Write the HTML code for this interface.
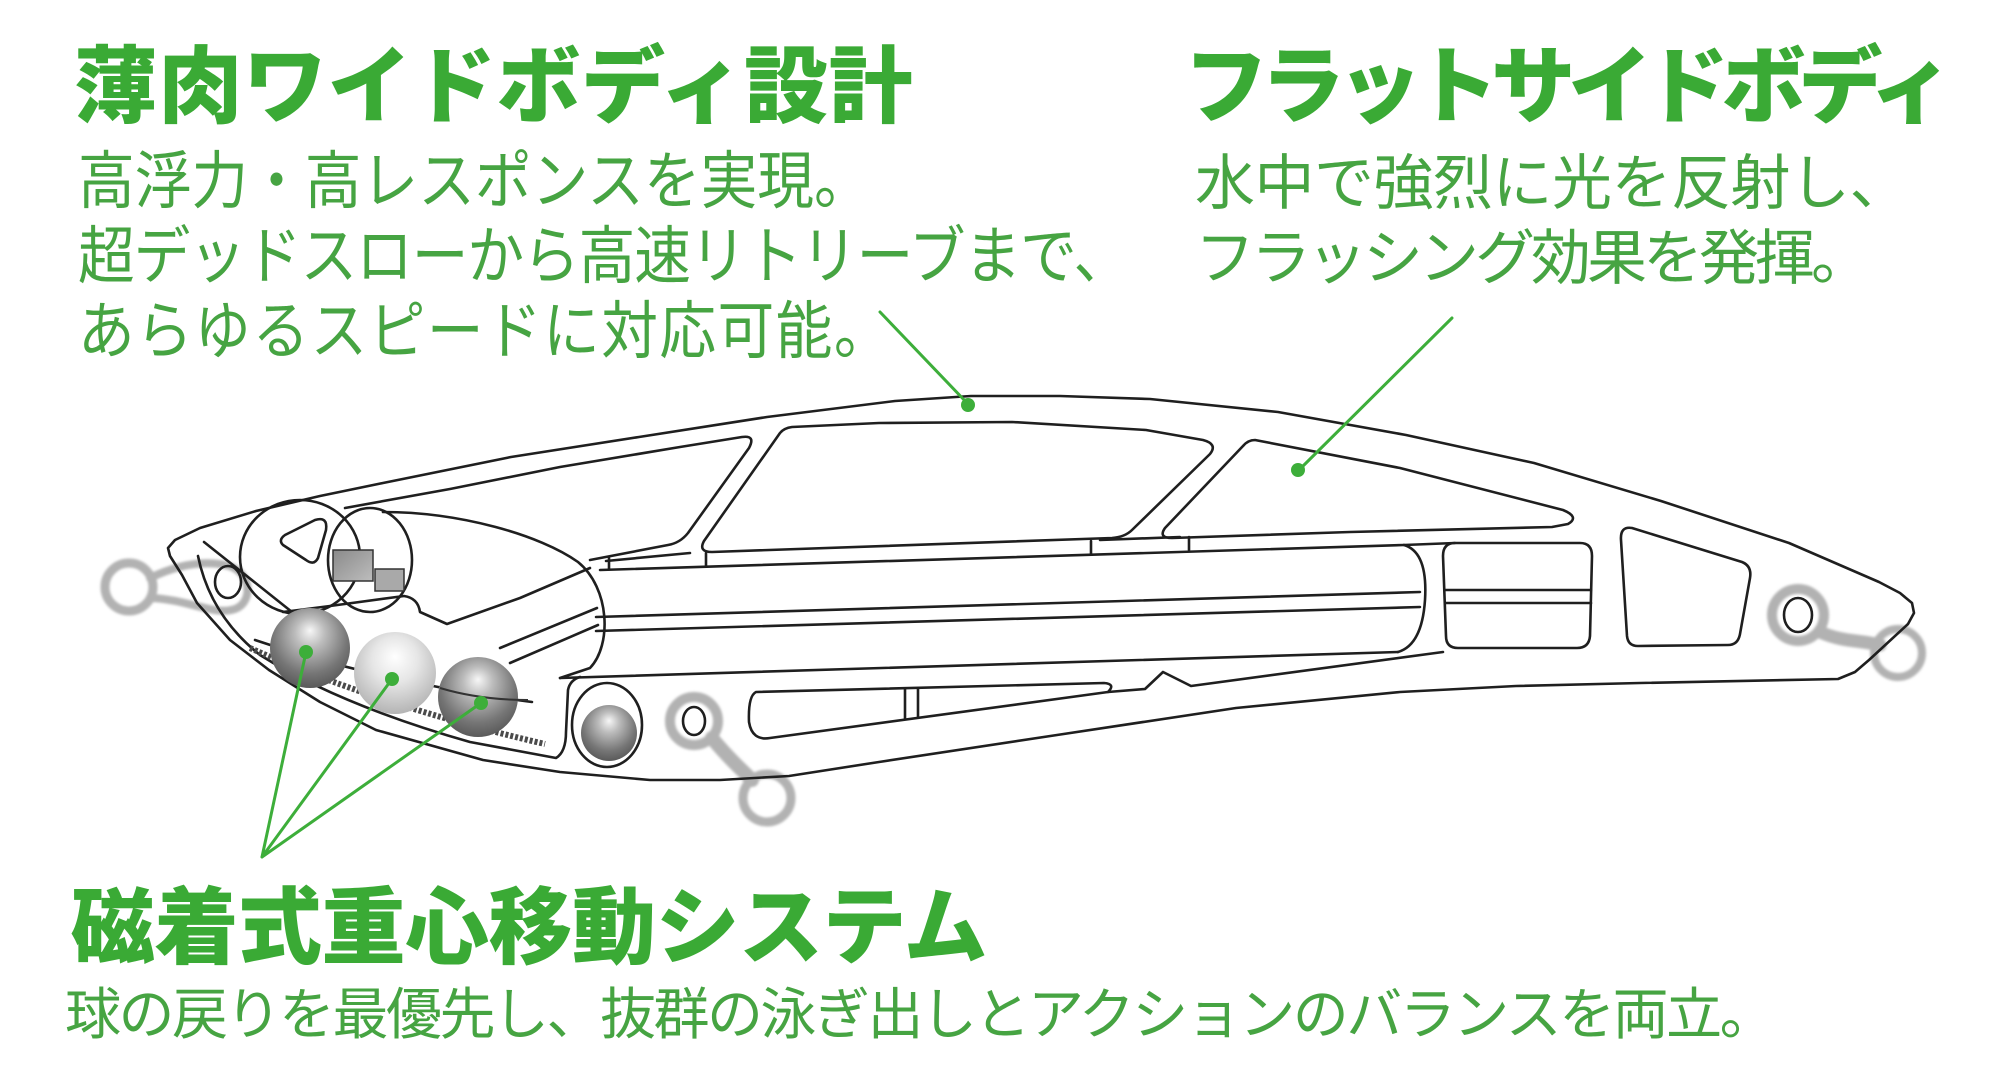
<!DOCTYPE html>
<html lang="ja">
<head>
<meta charset="utf-8">
<style>
html,body{margin:0;padding:0;background:#fff;}
body{width:2000px;height:1081px;position:relative;overflow:hidden;}
.t{position:absolute;white-space:nowrap;line-height:1;font-family:"Liberation Sans","Noto Sans CJK JP",sans-serif;}
.h{font-size:84px;font-weight:900;color:#3aaa35;letter-spacing:0.5px;}
.b{font-weight:400;color:#46a442;}
.l{font-size:63px;transform:scaleX(0.9);transform-origin:0 0;}
.r{font-size:60px;}
.m{font-size:56px;letter-spacing:-2.5px;}
svg{position:absolute;left:0;top:0;}
</style>
</head>
<body>
<svg width="2000" height="1081" viewBox="0 0 2000 1081">
<defs>
<radialGradient id="bd" cx="0.5" cy="0.38" r="0.62" fx="0.5" fy="0.28">
<stop offset="0" stop-color="#f7f7f7"/>
<stop offset="0.3" stop-color="#bcbcbc"/>
<stop offset="0.75" stop-color="#767676"/>
<stop offset="1" stop-color="#5a5a5a"/>
</radialGradient>
<radialGradient id="bl" cx="0.5" cy="0.38" r="0.62" fx="0.5" fy="0.3">
<stop offset="0" stop-color="#ffffff"/>
<stop offset="0.45" stop-color="#e6e6e6"/>
<stop offset="1" stop-color="#b4b4b4"/>
</radialGradient>
<linearGradient id="gb" x1="0" y1="0" x2="1" y2="1">
<stop offset="0" stop-color="#8a8a8a"/>
<stop offset="1" stop-color="#bdbdbd"/>
</linearGradient>
<filter id="bl1" x="-20%" y="-20%" width="140%" height="140%"><feGaussianBlur stdDeviation="1.4"/></filter>
</defs>

<!-- grey hangers (behind) -->
<g fill="none" stroke="#b2b2b2" filter="url(#bl1)" stroke-linecap="round">
<circle cx="129" cy="587" r="24" stroke-width="9"/>
<path d="M150,578 C175,566 200,560 225,565 C252,570 254,602 235,609 C214,616 190,600 152,598" stroke-width="8"/>
<circle cx="694" cy="721" r="24" stroke-width="10"/>
<path d="M712,738 C728,758 742,770 752,780" stroke-width="14"/>
<circle cx="767" cy="798" r="24" stroke-width="9"/>
<circle cx="1798" cy="615" r="26" stroke-width="10"/>
<path d="M1820,632 C1842,642 1860,640 1880,645" stroke-width="13"/>
<circle cx="1898" cy="653" r="24" stroke-width="8"/>
</g>

<g fill="none" stroke="#1f1f1f" stroke-width="2.6" stroke-linejoin="round" stroke-linecap="round">
<!-- outer outline -->
<polygon points="168,548 175,540 200,528 256,511 320,496 383,483 511,457 639,437 767,417 895,401 971,396 1060,396 1150,399 1278,412 1406,435 1534,463 1661,501 1789,543 1879,582 1900,593 1912,603 1914,613 1908,624 1869,660 1855,672 1838,679 1640,683 1516,686 1400,692 1236,708 1057,735 879,762 789,776 720,780 650,780 560,772 483,760 376,730 320,702 269,670 230,640 197,603 182,575 170,556"/>
<!-- panel 1 -->
<path d="M345,508 L450,489 L560,467 L680,447 L742,437 Q756,435 749,448 L688,533 Q680,543 668,545 L590,560"/>
<!-- big window -->
<path d="M792,427 L879,423 L1012,422 L1146,430 L1203,440 Q1218,444 1210,454 L1132,530 Q1125,537 1112,538 L712,552 Q698,552 704,541 L780,433 Q784,428 792,427 Z"/>
<!-- flat side window -->
<path d="M1255,440 L1400,468 L1563,510 Q1580,517 1568,524 L1552,527 L1350,532 L1172,538 Q1158,538 1165,528 L1243,446 Q1248,440 1255,440 Z"/>
<!-- struts / feet -->
<path d="M606,561 L690,553"/>
<path d="M1100,540 L1180,537"/>
<!-- tube -->
<path d="M600,570 L1404,545 L1455,543"/>
<path d="M609,558 L609,569 M706,553 L706,566 M1091,541 L1091,554 M1189,537 L1189,550"/>
<path d="M1404,545 Q1428,552 1425,600 Q1422,645 1398,652"/>
<path d="M596,617 L1420,592"/>
<path d="M596,631 L1420,607"/>
<path d="M560,678 L1398,652"/>
<!-- rect2 -->
<path d="M1455,543 L1580,543 Q1592,543 1592,556 L1590,636 Q1589,648 1577,648 L1458,648 Q1446,648 1446,636 L1443,556 Q1443,543 1455,543 Z"/>
<path d="M1445,590 L1591,590 M1445,603 L1591,603"/>
<!-- trapezoid window -->
<path d="M1632,528 L1742,562 Q1752,566 1750,578 L1740,634 Q1738,645 1728,645 L1638,646 Q1628,646 1627,636 L1621,540 Q1620,526 1632,528 Z"/>
<!-- tail eye inner -->
<ellipse cx="1798" cy="615" rx="14" ry="17"/>
<!-- keel slot -->
<path d="M756,692 L1104,683 Q1116,684 1108,692 L770,738 Q752,741 749,722 Q748,696 756,692 Z"/>
<path d="M905,689 L905,719 M918,689 L918,717"/>
<path d="M1108,692 L1145,689 L1163,672 L1191,686 L1443,652"/>
<!-- head capsule -->
<path d="M383,512 C460,512 540,535 578,562 C610,588 612,645 590,668 L560,678"/>
<path d="M500,648 L597,608 M510,663 L598,625"/>
<path d="M283,612 L330,606 L404,596 Q418,598 420,612 L447,624 L520,598 L590,568"/>
<ellipse cx="300" cy="557" rx="60" ry="57"/>
<ellipse cx="370" cy="560" rx="42" ry="52"/>
<path d="M285,535 L315,520 Q328,516 326,530 L318,558 Q314,566 306,560 L283,545 Q278,540 285,535 Z"/>
<ellipse cx="228" cy="582" rx="13" ry="16"/>
<path d="M204,542 L292,612"/>
<!-- inner wall -->
<path d="M198,556 Q210,615 260,655 Q340,705 470,742 L556,758 Q566,752 566,732 L568,690 Q570,680 580,677"/>
<path d="M255,640 Q380,682 532,702"/>
<!-- belly eye inner -->
<ellipse cx="694" cy="721" rx="11" ry="14"/>
<ellipse cx="607" cy="725" rx="35" ry="42"/>
</g>
<!-- rail -->
<path d="M250,648 Q380,706 545,744" fill="none" stroke="#4a4a4a" stroke-width="6" stroke-dasharray="3 2"/>
<!-- grey block -->
<rect x="333" y="550" width="40" height="31" fill="url(#gb)" stroke="#333" stroke-width="1.5"/>
<rect x="375" y="569" width="29" height="22" fill="#a9a9a9" stroke="#333" stroke-width="1.5"/>
<!-- balls -->
<circle cx="395" cy="673" r="41" fill="url(#bl)"/>
<circle cx="310" cy="648" r="40" fill="url(#bd)"/>
<circle cx="478" cy="697" r="40" fill="url(#bd)"/>
<circle cx="609" cy="733" r="28" fill="url(#bd)"/>
<path d="M440,688 Q480,700 528,700" fill="none" stroke="#333" stroke-width="2"/>

<!-- green callouts -->
<g stroke="#3dae3a" stroke-width="3" fill="none" stroke-linecap="round">
<path d="M880,312 L968,404"/>
<path d="M1452,318 L1299,470"/>
<path d="M262,857 L306,652 M262,857 L392,679 M262,857 L481,703"/>
</g>
<g fill="#3dae3a">
<circle cx="968" cy="405" r="7"/>
<circle cx="1298" cy="470" r="7"/>
<circle cx="306" cy="652" r="7"/>
<circle cx="392" cy="679" r="7"/>
<circle cx="481" cy="703" r="7"/>
</g>
</svg>

<div class="t h" style="left:74px;top:45px;">薄肉ワイドボディ設計</div>
<div class="t b l" style="left:78px;top:151px;">高浮力・高レスポンスを実現。</div>
<div class="t b l" style="left:78px;top:226px;letter-spacing:-1.2px;">超デッドスローから高速リトリーブまで、</div>
<div class="t b l" style="left:78px;top:301px;letter-spacing:1.6px;">あらゆるスピードに対応可能。</div>

<div class="t h" style="left:1184px;top:45px;letter-spacing:-7.2px;">フラットサイドボディ</div>
<div class="t b r" style="left:1195px;top:154px;letter-spacing:-0.5px;">水中で強烈に光を反射し、</div>
<div class="t b r" style="left:1195px;top:229px;letter-spacing:-4px;">フラッシング効果を発揮。</div>

<div class="t h" style="left:71px;top:886px;letter-spacing:-0.5px;">磁着式重心移動システム</div>
<div class="t b m" style="left:65px;top:987px;">球の戻りを最優先し、抜群の泳ぎ出しとアクションのバランスを両立。</div>
</body>
</html>
